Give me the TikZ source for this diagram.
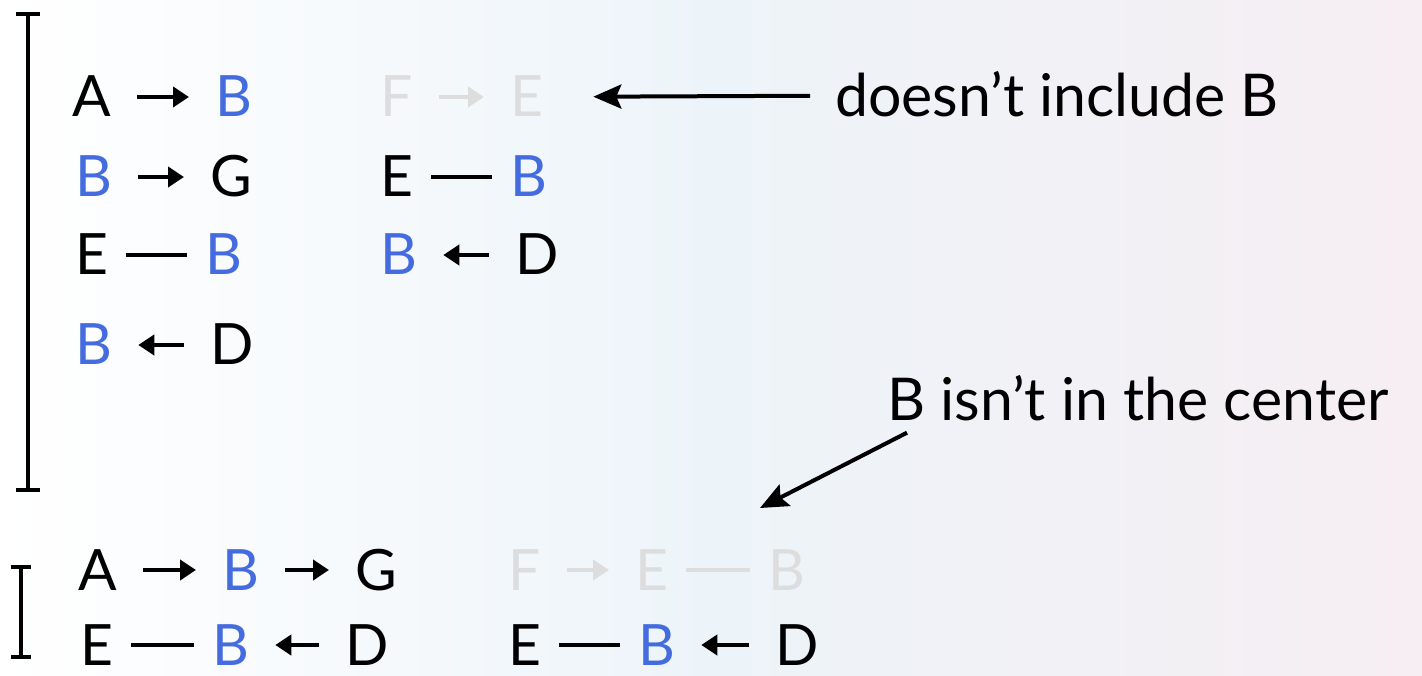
\documentclass[tikz,border=0pt]{standalone}
\usepackage{fontspec}
\setmainfont{Lato}
\usepackage{xcolor}
\usetikzlibrary{arrows.meta}

\definecolor{hitblue}{RGB}{68,108,222}
\definecolor{dimgray}{RGB}{221,221,221}
\definecolor{bgblue}{RGB}{237,244,249}
\definecolor{bgpink}{RGB}{246,238,242}

\tikzset{
	ltr/.style={inner sep=0pt,anchor=base west,text height=40pt,text depth=0pt},
	hit/.style={ltr,text=hitblue},
	dim/.style={ltr,text=dimgray},
	dir/.style={-{Triangle[length=16pt,width=20pt]},line width=4.5pt,shorten <=26pt,shorten >=26pt},
	und/.style={line width=4.5pt,shorten <=18pt,shorten >=18pt},
	callout/.style={-{Stealth[length=28pt,width=24pt,inset=5pt]},line width=4pt},
	note/.style={inner sep=0pt,anchor=base west,font=\fontsize{59}{64}\selectfont},
	brk/.style={line width=4pt}
}

\begin{document}
\begin{tikzpicture}[x=1pt,y=-1pt,font=\fontsize{57}{60}\selectfont]
	\useasboundingbox (0,0) rectangle (1422,676);
	\shade[left color=white,right color=bgpink,middle color=bgblue] (0,0) rectangle (1422,676);

	% brackets
	\draw[brk] (16,14) -- (40,14) (28,14) -- (28,490) (16,490) -- (40,490);
	\draw[brk,line width=3.5pt] (11,567) -- (31,567) (21,567) -- (21,657) (11,657) -- (31,657);

	% Row 1
	\node (a1) [ltr] at (72,117) {A};
	\node (b1) [hit] at (215,117) {B};
	\node (f1) [dim] at (380,117) {F};
	\node (e1) [dim] at (510,117) {E};
	\draw[dir] (a1) -- (b1);
	\draw[dir,dimgray] (f1) -- (e1);
	% Row 2
	\node (b2) [hit] at (75,197) {B};
	\node (g2) [ltr] at (210,197) {G};
	\node (e2) [ltr] at (380,197) {E};
	\node (b2r) [hit] at (510,197) {B};
	\draw[dir] (b2) -- (g2);
	\draw[und] (e2) -- (b2r);
	% Row 3
	\node (e3) [ltr] at (75,275) {E};
	\node (b3) [hit] at (205,275) {B};
	\node (b3r) [hit] at (380,275) {B};
	\node (d3) [ltr] at (515,275) {D};
	\draw[und] (e3) -- (b3);
	\draw[dir] (d3) -- (b3r);
	% Row 4
	\node (b4) [hit] at (75,365) {B};
	\node (d4) [ltr] at (210,365) {D};
	\draw[dir] (d4) -- (b4);

	% Row 5
	\node (a5) [ltr] at (78,590) {A};
	\node (b5) [hit] at (222,590) {B};
	\node (g5) [ltr] at (355,590) {G};
	\node (f5) [dim] at (508,590) {F};
	\node (e5) [dim] at (635,590) {E};
	\node (b5r) [dim] at (768,590) {B};
	\draw[dir] (a5) -- (b5);
	\draw[dir] (b5) -- (g5);
	\draw[dir,dimgray] (f5) -- (e5);
	\draw[und,dimgray] (e5) -- (b5r);
	% Row 6
	\node (e6) [ltr] at (80,665) {E};
	\node (b6) [hit] at (212,665) {B};
	\node (d6) [ltr] at (345,665) {D};
	\node (e6r) [ltr] at (508,665) {E};
	\node (b6r) [hit] at (638,665) {B};
	\node (d6r) [ltr] at (775,665) {D};
	\draw[und] (e6) -- (b6);
	\draw[dir] (d6) -- (b6);
	\draw[und] (e6r) -- (b6r);
	\draw[dir] (d6r) -- (b6r);

	% callouts
	\node (incl) [note] at (835,117) {doesn’t include B};
	\draw[callout,shorten <=25pt,shorten >=50pt] (incl) -- (e1);
	\node (cen) [note] at (887,420) {B isn’t in the center};
	\coordinate (ctr) at (760,508);
	\draw[callout] ([shift={(20,12)}]cen.south west) -- (ctr);
\end{tikzpicture}
\end{document}
